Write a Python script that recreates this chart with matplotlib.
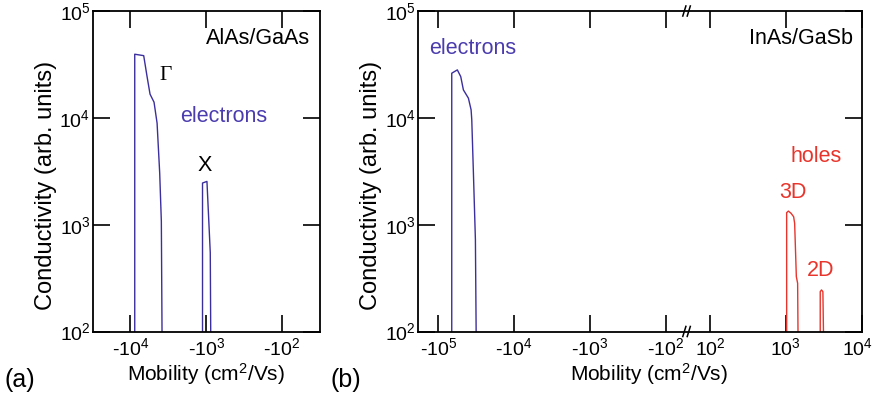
import numpy as np
import matplotlib
matplotlib.use("Agg")
import matplotlib.pyplot as plt
from matplotlib.ticker import NullLocator, FixedLocator
from matplotlib.transforms import ScaledTranslation

plt.rcParams["font.family"] = ["Liberation Sans", "DejaVu Sans"]
plt.rcParams["mathtext.fontset"] = "custom"
plt.rcParams["mathtext.rm"] = "Liberation Sans"
plt.rcParams["mathtext.it"] = "Liberation Sans:italic"
plt.rcParams["mathtext.bf"] = "Liberation Sans:bold"

# ---- (a) AlAs/GaAs mobility spectrum (electrons) ----
gamma_mu = [-8770, -8770, -6680, -6030, -5510, -4880, -4450, -4110, -3910, -3830]
gamma_sigma = [100, 39400, 38200, 24300, 16650, 14000, 8920, 3040, 1074, 100]

xval_mu = [-1120, -1120, -979, -885, -873]
xval_sigma = [100, 2453, 2540, 547, 100]

# ---- (b) InAs/GaSb mobility spectrum ----
elec_mu = [-66500, -66500, -56100, -50600, -46700, -40100, -36950, -36200,
           -34440, -32420, -31700]
elec_sigma = [100, 26170, 28100, 24300, 18270, 15280, 11880, 9580,
              3040, 724, 100]

holes3d_mu = [1024, 1024, 1079, 1169, 1265, 1305, 1374, 1429, 1445]
holes3d_sigma = [100, 1295, 1340, 1279, 1188, 1030, 326, 283, 100]

holes2d_mu = [2838, 2838, 2951, 3077, 3131]
holes2d_sigma = [100, 236, 245, 236, 100]

yticks = [1e2, 1e3, 1e4, 1e5]
ytick_labels = ["10$^2$", "10$^3$", "10$^4$", "10$^5$"]
a_xticks = [-1e4, -1e3, -1e2]
a_xtick_labels = ["-10$^4$", "-10$^3$", "-10$^2$"]
b_xticks = [-1e5, -1e4, -1e3, -1e2, 1e2, 1e3, 1e4]
b_xtick_labels = ["-10$^5$", "-10$^4$", "-10$^3$", "-10$^2$",
                  "10$^2$", "10$^3$", "10$^4$"]

BLUE = "#3b2f9e"
BLUE_TXT = "#4a3cae"
RED = "#e8342b"

# log-of-magnitude scale for negative mobilities
def neg_fwd(mu):
    mu = np.asarray(mu, dtype=float)
    return -np.log10(np.clip(-mu, 1e-300, None))

def neg_inv(x):
    return -np.power(10.0, -np.asarray(x, dtype=float))

# broken scale: negative side, gap, positive side
GAP_SHIFT = -3.416
BREAK = -1.708

def brk_fwd(mu):
    mu = np.asarray(mu, dtype=float)
    a = np.log10(np.clip(np.abs(mu), 1e-300, None))
    return np.where(mu < 0, -a, a + GAP_SHIFT)

def brk_inv(x):
    x = np.asarray(x, dtype=float)
    return np.where(x < BREAK, -np.power(10.0, -x), np.power(10.0, x - GAP_SHIFT))

W, H = 875, 396
fig = plt.figure(figsize=(W / 100, H / 100), dpi=100)

def px_axes(l, r, t, b):
    return fig.add_axes([l / W, 1 - b / H, (r - l) / W, (b - t) / H])

def px_text(x, y, s, **kw):
    fig.text(x / W, 1 - y / H, s, ha="center", va="center", **kw)

ax_a = px_axes(92.5, 320.0, 11.0, 331.5)
ax_b = px_axes(418.3, 861.7, 11.0, 331.5)

TICK_FS = 14
XLABEL_FS = 15
YLABEL_FS = 17
ANN_FS = 15.5
YLABEL_Y = (331.5 - 185) / 320.5

for ax in (ax_a, ax_b):
    ax.set_yscale("log")
    ax.set_ylim(1e2, 1e5)
    ax.yaxis.set_major_locator(FixedLocator(yticks))
    ax.set_yticklabels(ytick_labels)
    ax.yaxis.set_minor_locator(NullLocator())
    ax.tick_params(which="both", direction="in", top=True, right=True,
                   length=12, width=1.2, labelsize=TICK_FS)
    ax.tick_params(axis="y", pad=1.5)
    ax.tick_params(axis="x", pad=4)
    for s in ax.spines.values():
        s.set_linewidth(1.3)
    ax.set_ylabel("Conductivity (arb. units)", fontsize=YLABEL_FS)
    ax.set_xlabel("Mobility (cm$^2$/Vs)", fontsize=XLABEL_FS)
    ax.yaxis.label.set_va("center")
    ax.xaxis.label.set_va("center")

# panel (a)
ax_a.set_xscale("function", functions=(neg_fwd, neg_inv))
ax_a.set_xlim(-10 ** 4.5, -10 ** 1.5)
ax_a.xaxis.set_major_locator(FixedLocator(a_xticks))
ax_a.set_xticklabels(a_xtick_labels)
ax_a.xaxis.set_minor_locator(NullLocator())
ax_a.plot(gamma_mu, gamma_sigma, color=BLUE, lw=1.0)
ax_a.plot(xval_mu, xval_sigma, color=BLUE, lw=1.0)
ax_a.yaxis.set_label_coords(-0.204, YLABEL_Y)
ax_a.xaxis.set_label_coords(0.499, -0.133)

px_text(258, 39, "AlAs/GaAs", fontsize=ANN_FS)
px_text(166, 76, "\u0393", fontsize=ANN_FS,
        family=["Liberation Serif", "DejaVu Serif"])
px_text(224, 117, "electrons", fontsize=ANN_FS, color=BLUE_TXT)
px_text(205, 165, "X", fontsize=ANN_FS)

# panel (b)
ax_b.set_xscale("function", functions=(brk_fwd, brk_inv))
ax_b.set_xlim(-10 ** 5.264, 1e4)
ax_b.xaxis.set_major_locator(FixedLocator(b_xticks))
ax_b.set_xticklabels(b_xtick_labels)
ax_b.xaxis.set_minor_locator(NullLocator())
# keep the rightmost tick label inside the figure
last = ax_b.get_xticklabels()[-1]
last.set_transform(last.get_transform()
                   + ScaledTranslation(-4 / 100, 0, fig.dpi_scale_trans))
ax_b.plot(elec_mu, elec_sigma, color=BLUE, lw=1.0)
ax_b.plot(holes3d_mu, holes3d_sigma, color=RED, lw=1.0)
ax_b.plot(holes2d_mu, holes2d_sigma, color=RED, lw=1.0)
ax_b.yaxis.set_label_coords(-0.107, YLABEL_Y)
ax_b.xaxis.set_label_coords(0.521, -0.133)

px_text(801, 39, "InAs/GaSb", fontsize=ANN_FS)
px_text(473, 49, "electrons", fontsize=ANN_FS, color=BLUE_TXT)
px_text(816, 156, "holes", fontsize=ANN_FS, color=RED)
px_text(793, 192, "3D", fontsize=ANN_FS, color=RED)
px_text(821, 270, "2D", fontsize=ANN_FS, color=RED)

# axis-break marks on the top and bottom spines
bx = (687 - 418.3) / (861.7 - 418.3)
for yb in (0.0, 1.0):
    for dx in (-0.006, 0.004):
        ax_b.plot([bx + dx - 0.004, bx + dx + 0.004], [yb - 0.018, yb + 0.018],
                  transform=ax_b.transAxes, color="black", lw=1.1,
                  clip_on=False, solid_capstyle="butt")

px_text(20, 380, "(a)", fontsize=18)
px_text(346, 380, "(b)", fontsize=18)

fig.savefig("out.png", dpi=100)
